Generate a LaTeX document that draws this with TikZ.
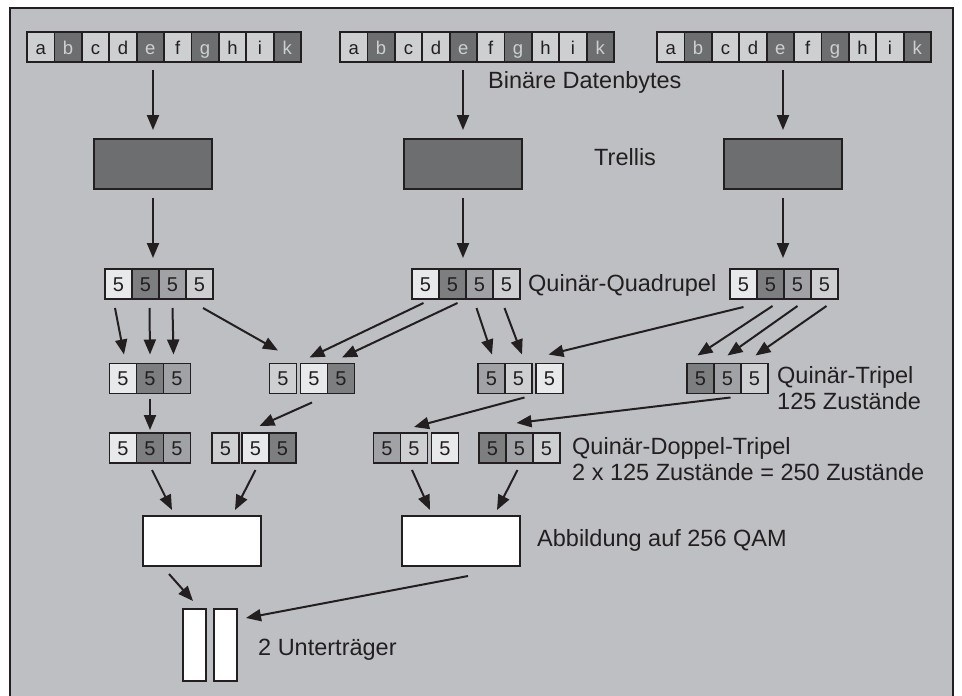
\documentclass[tikz,border=0pt]{standalone}
\usepackage{fontspec}
\setmainfont{Liberation Sans}
\usetikzlibrary{arrows.meta}
\definecolor{panel}{RGB}{190,191,195}
\definecolor{ink}{RGB}{35,31,32}
\definecolor{byteDark}{RGB}{109,110,112}
\definecolor{byteLight}{RGB}{206,207,209}
\definecolor{cellDark}{RGB}{125,126,128}
\definecolor{cellMid}{RGB}{161,162,165}
\definecolor{cellLight}{RGB}{206,207,209}
\definecolor{cellPale}{RGB}{232,233,235}

\begin{document}
\begin{tikzpicture}[x=1pt,y=-1pt,
  arr/.style={draw=ink, line width=2pt, -{Triangle[length=15pt,width=12pt]}},
  cell/.style={draw=ink, line width=1.8pt, minimum height=30pt, inner sep=0pt, outer sep=0pt, text height=14pt, text depth=0pt},
  byteLo/.style={cell, minimum width=27.4pt, fill=byteLight, text=ink, font=\fontsize{18.5}{18.5}\selectfont},
  byteHi/.style={cell, minimum width=27.4pt, fill=byteDark, text=byteLight, font=\fontsize{18.5}{18.5}\selectfont},
  five/.style={cell, minimum width=27pt, text=ink, font=\fontsize{20}{20}\selectfont},
  fivePale/.style={five, fill=cellPale},
  fiveLight/.style={five, fill=cellLight},
  fiveMid/.style={five, fill=cellMid},
  fiveDark/.style={five, fill=cellDark},
  block/.style={draw=ink, line width=2pt, minimum width=118pt, minimum height=50pt, inner sep=0pt},
  carrier/.style={draw=ink, line width=2pt, fill=white, minimum width=23pt, minimum height=72pt, inner sep=0pt},
  txt/.style={font=\fontsize{23.5}{26}\selectfont, text=ink, inner sep=0pt, anchor=base west, align=left}]

  \useasboundingbox (0,0) rectangle (962,696);

  % Panel
  \draw[ink, line width=2pt, fill=panel] (10,8) rectangle (953,712);

  % Binary data bytes
  \foreach \row/\x in {1/27,2/340,3/657}
    \foreach \l/\s [count=\i] in {a/byteLo,b/byteHi,c/byteLo,d/byteLo,e/byteHi,f/byteLo,g/byteHi,h/byteLo,i/byteLo,k/byteHi}
      \node[\s] (b\row-\i) at (\x+13.7+27.4*\i-27.4, 47) {\l};

  % Trellis coders
  \node[block, fill=byteDark] (t1) at (153,164) {};
  \node[block, fill=byteDark] (t2) at (463,164) {};
  \node[block, fill=byteDark] (t3) at (783,164) {};

  % Quinary quadruples
  \foreach \q/\x in {1/105,2/412,3/730}
    \foreach \s [count=\i] in {fivePale,fiveDark,fiveMid,fiveLight}
      \node[\s] (q\q-\i) at (\x+13.5+27*\i-27, 284) {5};

  % Quinary triples
  \foreach \n/\s/\x in {ta-1/fivePale/123, ta-2/fiveDark/150, ta-3/fiveMid/177,
                        tb-1/fiveLight/283, tb-2/fivePale/314, tb-3/fiveDark/341,
                        tc-1/fiveMid/491.5, tc-2/fiveLight/518.5, tc-3/fivePale/549.5,
                        td-1/fiveDark/700.5, td-2/fiveMid/727.5, td-3/fiveLight/754.5}
    \node[\s] (\n) at (\x, 378.5) {5};

  % Quinary double triples
  \foreach \n/\s/\x in {ea-1/fivePale/123, ea-2/fiveDark/150, ea-3/fiveMid/177,
                        fb-1/fiveLight/225.5, fb-2/fivePale/255.5, fb-3/fiveDark/282.5,
                        gc-1/fiveMid/387, gc-2/fiveLight/414, gc-3/fivePale/445,
                        hd-1/fiveDark/492.5, hd-2/fiveMid/519.5, hd-3/fiveLight/546.5}
    \node[\s] (\n) at (\x, 448) {5};

  % 256 QAM mapping and sub-carriers
  \node[block, fill=white] (m1) at (202,541) {};
  \node[block, fill=white] (m2) at (460.5,541) {};
  \node[carrier] (s1) at (194.5,645) {};
  \node[carrier] (s2) at (225.5,645) {};

  % Labels (base = last line)
  \node[txt] (lbytes) at (488,88) {Binäre Datenbytes};
  \node[txt] (ltrellis) at (594,165) {Trellis};
  \node[txt] (lquad) at (528,291) {Quinär-Quadrupel};
  \node[txt] (ltrip) at (777,409) {Quinär-Tripel\\125 Zustände};
  \node[txt] (ldouble) at (572,480) {Quinär-Doppel-Tripel\\2 x 125 Zustände = 250 Zustände};
  \node[txt] (lqam) at (537,546) {Abbildung auf 256 QAM};
  \node[txt] (lsub) at (258,655) {2 Unterträger};

  % Bytes -> trellis -> quadruples
  \foreach \k in {1,2,3} {
    \draw[arr, shorten <=8pt, shorten >=8pt] (t\k.north |- b\k-5.south) -- (t\k.north);
    \draw[arr, shorten <=8pt, shorten >=11pt] (t\k.south) -- (t\k.south |- q\k-2.north);
  }

  % Quadruples -> triples
  \draw[arr] ([xshift=-3.5pt,yshift=-9pt]q1-1.south) -- ([xshift=1pt,yshift=9pt]ta-1.north);
  \draw[arr] ([xshift=4pt,yshift=-9pt]q1-2.south) -- ([yshift=9pt]ta-2.north);
  \draw[arr] ([yshift=-9pt]q1-3.south) -- ([xshift=-3.5pt,yshift=9pt]ta-3.north);
  \draw[arr] ([xshift=3.5pt,yshift=-9pt]q1-4.south) -- ([xshift=-5pt,yshift=13pt]tb-1.north);
  \draw[arr] ([xshift=-2pt,yshift=-4pt]q2-1.south) -- ([xshift=-4.5pt,yshift=6pt]tb-2.north);
  \draw[arr] ([xshift=5pt,yshift=-4pt]q2-2.south) -- ([xshift=1pt,yshift=6pt]tb-3.north);
  \draw[arr] ([xshift=-3pt,yshift=-9pt]q2-3.south) -- ([xshift=0.5pt,yshift=9pt]tc-1.north);
  \draw[arr] ([xshift=-2pt,yshift=-9pt]q2-4.south) -- ([xshift=3.5pt,yshift=9pt]tc-2.north);
  \draw[arr] ([yshift=-8pt]q3-1.south) -- ([xshift=-1pt,yshift=9pt]tc-3.north);
  \draw[arr] ([xshift=2pt,yshift=-7pt]q3-2.south) -- ([xshift=-3pt,yshift=8pt]td-1.north);
  \draw[arr] ([yshift=-7pt]q3-3.south) -- ([yshift=8pt]td-2.north);
  \draw[arr] ([xshift=2pt,yshift=-7pt]q3-4.south) -- ([xshift=1pt,yshift=8pt]td-3.north);

  % Triples -> double triples
  \draw[arr] ([yshift=-5pt]ta-2.south) -- ([yshift=3pt]ea-2.north);
  \draw[arr] ([xshift=-2pt,yshift=-9pt]tb-2.south) -- ([xshift=4pt,yshift=7pt]fb-2.north);
  \draw[arr] ([xshift=6pt,yshift=-4pt]tc-2.south) -- ([yshift=6pt]gc-2.north);
  \draw[arr] ([xshift=3pt,yshift=-4pt]td-2.south) -- ([xshift=-3pt,yshift=10pt]hd-2.north);

  % Double triples -> QAM
  \draw[arr] ([xshift=2pt,yshift=-7pt]ea-2.south) -- ([xshift=-30pt,yshift=5pt]m1.north);
  \draw[arr] ([yshift=-7pt]fb-2.south) -- ([xshift=33pt,yshift=5pt]m1.north);
  \draw[arr] ([xshift=-2pt,yshift=-7pt]gc-2.south) -- ([xshift=-30.5pt,yshift=5pt]m2.north);
  \draw[arr] ([xshift=-2pt,yshift=-7pt]hd-2.south) -- ([xshift=36.5pt,yshift=5pt]m2.north);

  % QAM -> sub-carriers
  \draw[arr] ([xshift=-33pt,yshift=-7pt]m1.south) -- ([xshift=-1.5pt,yshift=7pt]s1.north);
  \draw[arr] ([xshift=7.5pt,yshift=-9pt]m2.south) -- ([xshift=8pt,yshift=-10pt]s2.north east);

\end{tikzpicture}
\end{document}
